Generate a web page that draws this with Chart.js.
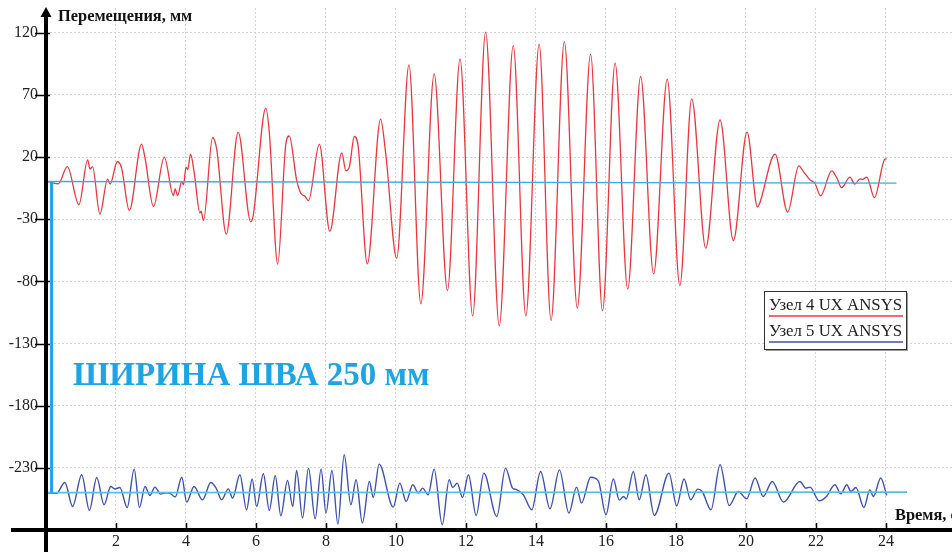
<!DOCTYPE html>
<html lang="ru">
<head>
<meta charset="utf-8">
<title>Перемещения узлов 4 и 5</title>
<script src="https://cdn.jsdelivr.net/npm/chart.js@4.4.1/dist/chart.umd.min.js"></script>
<style>
  html, body { margin: 0; padding: 0; background: #ffffff; }
  #wrap { width: 952px; height: 552px; }
</style>
</head>
<body>
<div id="wrap"><canvas id="chart" width="952" height="552"></canvas></div>
<script>
// Узел 4 UX ANSYS: время (с) и перемещение (мм) в экстремумах и изломах кривой
const node4Time = [0, 0.35, 0.61, 0.94, 1.19, 1.26, 1.33, 1.54, 1.76, 1.83, 2.04, 2.16, 2.38, 2.73, 2.83, 3.07,
  3.38, 3.64, 3.69, 3.76, 3.88, 3.93, 4.0, 4.05, 4.13, 4.23, 4.4, 4.43, 4.5, 4.76, 4.88, 5.15, 5.49, 5.85, 5.92,
  6.28, 6.38, 6.62, 6.85, 6.95, 7.16, 7.28, 7.4, 7.5, 7.81, 8.11, 8.45, 8.57, 8.67, 8.81, 8.92, 9.18, 9.56, 9.71,
  10.02, 10.37, 10.71, 11.09, 11.47, 11.83, 12.19, 12.56, 12.95, 13.35, 13.71, 14.09, 14.43, 14.81, 15.18, 15.56,
  15.9, 16.26, 16.62, 16.99, 17.36, 17.75, 18.11, 18.45, 18.85, 19.26, 19.64, 20.03, 20.33, 20.38, 20.83, 21.19,
  21.51, 21.65, 21.83, 21.97, 22.13, 22.45, 22.6, 22.73, 22.97, 23.11, 23.26, 23.33, 23.45, 23.67, 23.97, 24.02];
const node4Disp = [0.8, -1.5, 12.4, -18.4, 17.8, 10.3, 12.4, -25.9, 2.3, -1.7, 16.5, 11.2, -23, 30.4, 19.2, -19.7,
  20, -10.9, -5.5, -10.9, 0.4, -2.3, 12, 10, 22.4, 8.4, -25, -23.5, -31, 35.8, 25.9, -42, 40.1, -32, -27,
  59.4, 40, -66, 30, 37, 1.7, -9, -11.5, -15, 30.4, -39.8, 23.5, 9, 12.4, 36.6, 28.5, -65.8, 50.6, 21.8,
  -61.3, 94.3, -98, 87, -87.3, 99.1, -107.7, 120.6, -115.7, 109.8, -107.7, 110.9, -111.4, 113, -101.5, 102.9,
  -103.7, 95.6, -86.2, 84.9, -73.9, 82.8, -83.3, 66.9, -53.2, 50, -47.1, 40.1, -20.2, -18, 22.4, -24.2,
  13, 8, 1.7, -1, -11.1, 8.9, 3, -4.5, 3.9, -1.7, 2.5, 2, 3.9, -12.5, 18.4, 18.6];

// Узел 5 UX ANSYS (кривая смещена на ширину шва, 250 мм)
const node5Time = [0, 0.3, 0.54, 0.76, 1.02, 1.24, 1.45, 1.66, 1.85, 1.97, 2.11, 2.32, 2.52, 2.67, 2.83, 2.97,
  3.11, 3.28, 3.42, 3.55, 3.69, 3.88, 4.02, 4.23, 4.47, 4.71, 4.86, 5.02, 5.21, 5.33, 5.54, 5.73, 5.89, 6.02,
  6.21, 6.38, 6.55, 6.71, 6.9, 7.05, 7.16, 7.33, 7.5, 7.69, 7.86, 8.0, 8.17, 8.34, 8.52, 8.71, 8.86, 9.04,
  9.24, 9.35, 9.52, 9.92, 10.11, 10.29, 10.48, 10.64, 10.76, 10.92, 11.09, 11.32, 11.52, 11.62, 11.75, 11.9,
  12.07, 12.29, 12.51, 12.88, 13.13, 13.33, 13.44, 13.64, 13.88, 14.13, 14.4, 14.67, 14.94, 15.16, 15.3, 15.56,
  15.78, 16.0, 16.21, 16.38, 16.5, 16.58, 16.78, 16.95, 17.14, 17.38, 17.8, 18.02, 18.23, 18.42, 18.62, 18.75,
  19.0, 19.26, 19.52, 19.78, 20.02, 20.26, 20.49, 20.75, 21.07, 21.54, 21.71, 21.83, 22.09, 22.3, 22.54, 22.71,
  22.88, 23.0, 23.14, 23.37, 23.54, 23.64, 23.85, 24.02];
const node5Disp = [-250, -250.5, -241.8, -261.1, -235.6, -264.3, -237.7, -259.7, -245, -247, -245.8, -261.9, -231, -261.9, -245, -252.2,
  -245.5, -251.1, -250, -250.5, -253.5, -237.5, -257.6, -245, -255.7, -241.8, -246.3, -255.7, -246.9, -254.4, -235.6, -263.7, -239, -261.1,
  -234.8, -264.3, -236.4, -268.6, -240.2, -261.1, -232.1, -270.4, -230.2, -271, -230.8, -266.4, -232.1, -275.3, -219.5, -259.7, -239.6, -274.4,
  -241, -253.8, -227, -261.6, -242.3, -257, -243.6, -250.3, -246.3, -251.7, -231, -275.8, -239.6, -245.8, -242.3, -253.8,
  -235.6, -268.3, -234.2, -269.1, -230.2, -246.3, -247.5, -251.7, -263.7, -232.9, -262.9, -231.6, -266.4, -245.5, -258.4, -237.5,
  -240.4, -267.8, -239, -256, -253, -255, -232.9, -255.7, -235.6, -268.3, -234.2, -260.5, -239, -255.7, -247.1, -249,
  -263.7, -227.5, -260.3, -249, -254.9, -238.2, -253, -241, -257.6, -241, -246.3, -245.5, -256.5, -253, -243.6, -250.9,
  -243.6, -249, -245.8, -261.9, -247.7, -253, -238.2, -252.2];

// Нулевые линии узлов и отметка ширины шва
const base4Time = [0, 24.3];
const base4Disp = [0.4, -0.9];
const base5Time = [0, 24.6];
const base5Disp = [-250, -249.6];
const seamTime = [0.16, 0.16];
const seamDisp = [0, -250];

// Деления осей
const xTicks = [2, 4, 6, 8, 10, 12, 14, 16, 18, 20, 22, 24];
const yTicks = [-230, -180, -130, -80, -30, 20, 70, 120];

const legendLabels = ['Узел 4 UX ANSYS', 'Узел 5 UX ANSYS'];
const seamLabel = 'ШИРИНА ШВА 250 мм';
const yTitle = 'Перемещения, мм';
const xTitle = 'Время, с';

const toPoints = (ts, vs) => ts.map((t, i) => ({ x: t, y: vs[i] }));

const COL_RED = '#e8383d';
const COL_BLUE = '#3d52b0';
const COL_CYAN = '#1ca4e4';
const SERIF = "'Liberation Serif', 'Times New Roman', serif";

// убираем автоматические поля шкал, чтобы область графика задавалась только layout.padding
function fixScale(scale, size) {
  if (scale.isHorizontal()) scale.height = size; else scale.width = size;
  scale.paddingTop = 0; scale.paddingBottom = 0;
  scale.paddingLeft = 0; scale.paddingRight = 0;
}

// Оси со стрелкой, подписи, надпись и легенда
const decorations = {
  id: 'decorations',
  afterDraw(chart) {
    const { ctx, chartArea, scales } = chart;
    const x0 = scales.x.getPixelForValue(0);
    const yBottom = chartArea.bottom;
    ctx.save();

    // деления
    ctx.strokeStyle = '#000';
    ctx.lineWidth = 1.5;
    ctx.beginPath();
    yTicks.forEach(v => {
      const y = Math.round(scales.y.getPixelForValue(v)) + 0.5;
      ctx.moveTo(x0 - 11, y); ctx.lineTo(x0 + 4, y);
    });
    xTicks.forEach(v => {
      const x = Math.round(scales.x.getPixelForValue(v)) + 0.5;
      ctx.moveTo(x, yBottom - 7); ctx.lineTo(x, yBottom + 2);
    });
    ctx.stroke();

    // оси
    ctx.lineWidth = 4;
    ctx.beginPath();
    ctx.moveTo(x0, 14); ctx.lineTo(x0, chart.height);
    ctx.moveTo(11, yBottom); ctx.lineTo(chart.width, yBottom);
    ctx.stroke();
    ctx.fillStyle = '#000';
    ctx.beginPath();
    ctx.moveTo(x0, 7); ctx.lineTo(x0 - 5.5, 17); ctx.lineTo(x0 + 5.5, 17);
    ctx.closePath(); ctx.fill();

    // заголовки осей
    ctx.fillStyle = '#111';
    ctx.font = 'bold 16.4px ' + SERIF;
    ctx.textAlign = 'left';
    ctx.textBaseline = 'alphabetic';
    ctx.fillText(yTitle, 58, 21);
    ctx.fillText(xTitle, 895, 520);

    // надпись о ширине шва
    ctx.fillStyle = COL_CYAN;
    ctx.font = 'bold 33px ' + SERIF;
    ctx.fillText(seamLabel, 73, 385);

    // легенда
    const bx = 764.5, by = 291.5, bw = 142, bh = 58;
    ctx.fillStyle = '#9a9a9a';
    ctx.fillRect(bx + 1.5, by + 1.5, bw, bh);
    ctx.fillStyle = '#fff';
    ctx.fillRect(bx, by, bw, bh);
    ctx.strokeStyle = '#333';
    ctx.lineWidth = 1;
    ctx.strokeRect(bx, by, bw, bh);
    ctx.font = '16.8px ' + SERIF;
    const cols = [COL_RED, COL_BLUE];
    legendLabels.forEach((lab, i) => {
      const base = 310 + i * 26;
      ctx.fillStyle = '#222';
      ctx.fillText(lab, 769, base);
      ctx.strokeStyle = cols[i];
      ctx.lineWidth = 1.3;
      ctx.beginPath();
      ctx.moveTo(769, base + 6); ctx.lineTo(903, base + 6);
      ctx.stroke();
    });
    ctx.restore();
  }
};

new Chart(document.getElementById('chart'), {
  type: 'line',
  data: {
    datasets: [
      { label: 'seam', data: toPoints(seamTime, seamDisp), borderColor: COL_CYAN, borderWidth: 3, pointRadius: 0, tension: 0, order: 0 },
      { label: 'base4', data: toPoints(base4Time, base4Disp), borderColor: '#3aaaea', borderWidth: 1.4, pointRadius: 0, tension: 0, order: 1 },
      { label: 'base5', data: toPoints(base5Time, base5Disp), borderColor: '#5cbbee', borderWidth: 1.8, pointRadius: 0, tension: 0, order: 1 },
      { label: legendLabels[0], data: toPoints(node4Time, node4Disp), borderColor: COL_RED, borderWidth: 1.3, pointRadius: 0, cubicInterpolationMode: 'monotone', order: 2 },
      { label: legendLabels[1], data: toPoints(node5Time, node5Disp), borderColor: COL_BLUE, borderWidth: 1.4, pointRadius: 0, cubicInterpolationMode: 'monotone', order: 2 }
    ]
  },
  options: {
    responsive: false,
    animation: false,
    events: [],
    layout: { padding: { top: 8, left: 0, right: 0, bottom: 0 } },
    plugins: { legend: { display: false }, tooltip: { enabled: false } },
    scales: {
      x: {
        type: 'linear',
        min: 0,
        max: 25.886,
        afterFit(scale) { fixScale(scale, 22); },
        afterBuildTicks(scale) { scale.ticks = xTicks.map(v => ({ value: v })); },
        ticks: {
          callback: v => String(v),
          font: { family: SERIF, size: 16 },
          color: '#222',
          padding: 2,
          maxRotation: 0,
          autoSkip: false
        },
        grid: { color: '#d4d4d4', lineWidth: 1, drawTicks: false },
        border: { display: false, dash: [2, 2] }
      },
      y: {
        type: 'linear',
        min: -280,
        max: 140,
        afterFit(scale) { fixScale(scale, 46); },
        afterBuildTicks(scale) { scale.ticks = yTicks.map(v => ({ value: v })); },
        ticks: {
          callback: v => String(v),
          font: { family: SERIF, size: 16 },
          color: '#222',
          padding: 8,
          autoSkip: false
        },
        grid: { color: '#d4d4d4', lineWidth: 1, drawTicks: false },
        border: { display: false, dash: [2, 2] }
      }
    }
  },
  plugins: [decorations]
});
</script>
</body>
</html>
